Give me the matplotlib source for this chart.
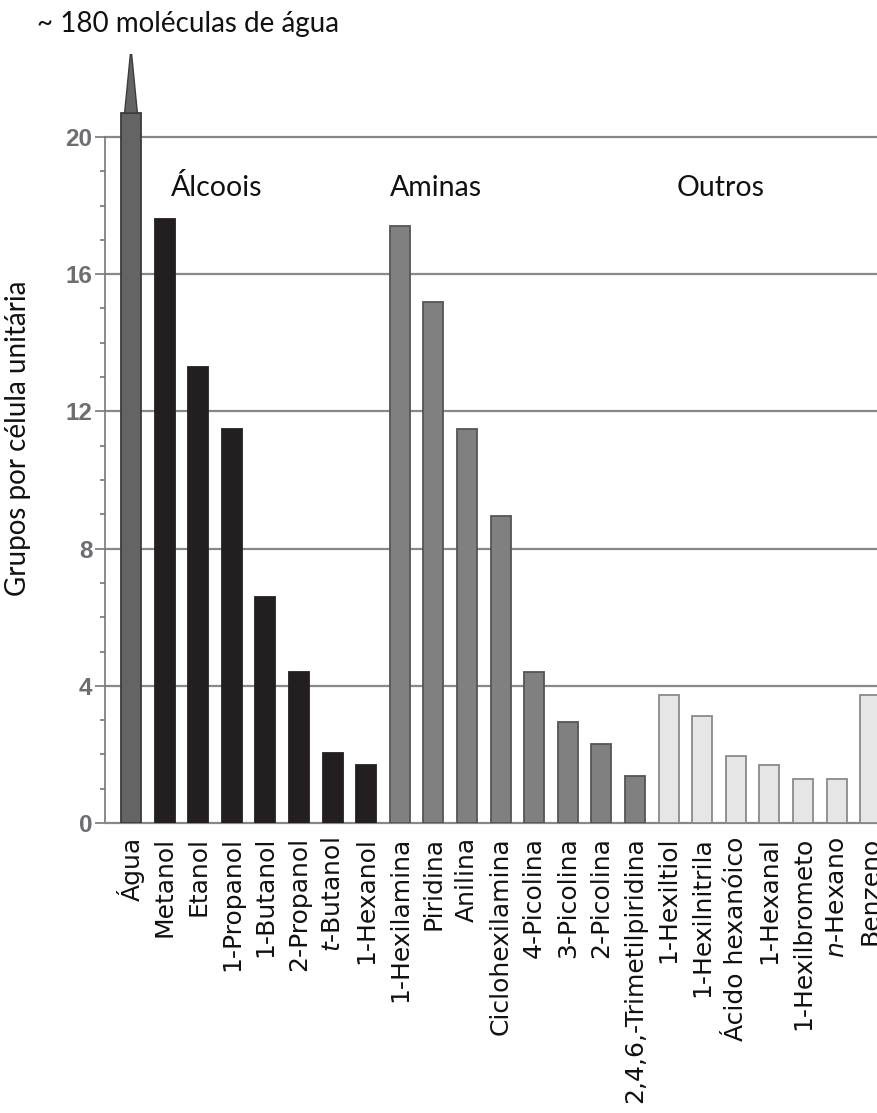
import matplotlib
matplotlib.use("Agg")
import matplotlib.pyplot as plt
from matplotlib.patches import Polygon
from matplotlib.ticker import MultipleLocator

# ---- data ----
water_label = ["Água"]
water_value = [20.7]
water_peak = 22.4  # "~180 moléculas de água" (off scale)

alcohols = ["Metanol", "Etanol", "1-Propanol", "1-Butanol", "2-Propanol",
            "$\\mathit{t}$-Butanol", "1-Hexanol"]
alcohol_values = [17.6, 13.3, 11.5, 6.6, 4.4, 2.05, 1.7]

amines = ["1-Hexilamina", "Piridina", "Anilina", "Ciclohexilamina", "4-Picolina",
          "3-Picolina", "2-Picolina", "2,4,6,-Trimetilpiridina"]
amine_values = [17.4, 15.2, 11.5, 8.95, 4.4, 2.95, 2.3, 1.38]

others = ["1-Hexiltiol", "1-Hexilnitrila", "Ácido hexanóico", "1-Hexanal",
          "1-Hexilbrometo", "$\\mathit{n}$-Hexano", "Benzeno"]
other_values = [3.72, 3.12, 1.95, 1.68, 1.27, 1.27, 3.72]

group_names = ["Álcoois", "Aminas", "Outros"]
y_ticks = [0, 4, 8, 12, 16, 20]
y_label = "Grupos por célula unitária"
top_note = "~ 180 moléculas de água"

# ---- figure ----
W, H = 878, 1113
fig = plt.figure(figsize=(W / 100, H / 100), dpi=100)
ax_left = 105 / W
ax_bottom = (H - 823) / H
ax_top_px = 17
ax = fig.add_axes([ax_left, ax_bottom, 1 - ax_left, (823 - ax_top_px) / H])

labels = water_label + alcohols + amines + others
values = water_value + alcohol_values + amine_values + other_values
groups = ([("#646464", "#3c3c3c")] * len(water_label)
          + [("#231f20", "#231f20")] * len(alcohols)
          + [("#808080", "#555555")] * len(amines)
          + [("#e6e6e6", "#8a8a8a")] * len(others))
x = list(range(len(labels)))
bw = 0.6
for xi, v, (fc, ec) in zip(x, values, groups):
    ax.bar(xi, v, width=bw, color=fc, edgecolor=ec, linewidth=1.3, zorder=3)

# spike on water bar
fc, ec = groups[0]
spike = Polygon([(x[0] - 0.19, water_value[0]), (x[0] + 0.19, water_value[0]),
                 (x[0] + 0.02, water_peak), (x[0] - 0.02, water_peak)],
                closed=True, facecolor=fc, edgecolor=ec, linewidth=1.0, zorder=3)
ax.add_patch(spike)

px_per_unit = (823 - 137) / 20
ax.set_ylim(0, (823 - ax_top_px) / px_per_unit)
spacing = 33.6
ax.set_xlim(-(131 - 105) / spacing, (878 - 131) / spacing)

# grid
for t in y_ticks[1:]:
    ax.axhline(t, color="#888888", lw=1.6, zorder=1)

for s in ["top", "right"]:
    ax.spines[s].set_visible(False)
ax.spines["left"].set_bounds(0, 20)
ax.spines["left"].set_color("#777777")
ax.spines["left"].set_linewidth(1.2)
ax.spines["bottom"].set_color("#888888")
ax.spines["bottom"].set_linewidth(1.6)

ax.set_yticks(y_ticks)
ax.set_yticks([m for m in range(0, 21) if m % 4 != 0], minor=True)
ax.tick_params(axis="y", which="major", length=7, width=1.2, color="#777777",
               labelsize=17.5, labelcolor="#6e6e72", pad=2)
ax.tick_params(axis="y", which="minor", length=3.5, width=1.2, color="#777777")
for lab in ax.get_yticklabels():
    lab.set_fontfamily("Liberation Sans")
    lab.set_fontweight("bold")

ax.set_xticks(x)
ax.set_xticklabels(labels, rotation=90, fontsize=18, family="DejaVu Sans",
                   color="#111111", va="top", ha="center")
ax.tick_params(axis="x", length=0, pad=10)

# y label
fig.text(18 / W, 1 - 438 / H, y_label, rotation=90, ha="center", va="center",
         fontsize=20, family="Lato", color="#111111")
# top note
fig.text(37 / W, 1 - 24 / H, top_note, ha="left", va="center",
         fontsize=20, family="Lato", color="#111111")

# group labels
group_x = [2.56, 9.08, 17.56]
for name, gx in zip(group_names, group_x):
    ax.text(gx, (823 - 188) / px_per_unit, name, ha="center", va="center",
            fontsize=20.5, family="Lato", color="#111111", zorder=4)

fig.savefig("out.png", dpi=100)
